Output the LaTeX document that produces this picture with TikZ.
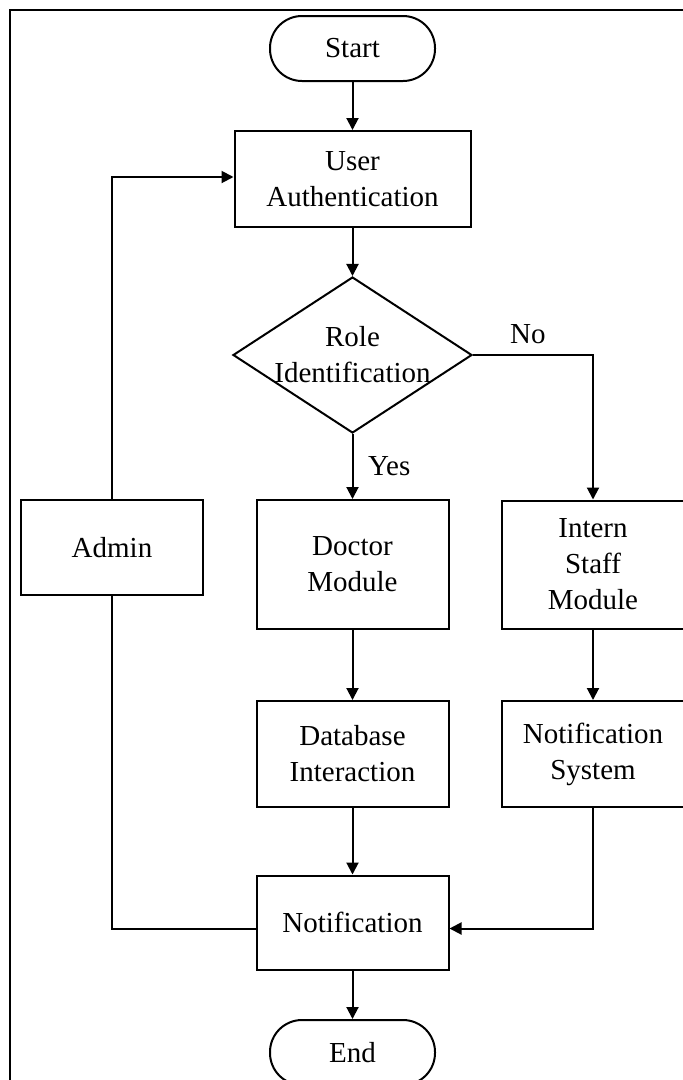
\documentclass[tikz,border=0pt]{standalone}
\usepackage{fontspec}
\setmainfont{Liberation Serif}
\usetikzlibrary{arrows.meta,shapes.geometric}

\begin{document}
\begin{tikzpicture}[x=1pt,y=-1pt,
    font=\fontsize{29}{36}\selectfont,
    box/.style={draw, line width=2pt, align=center, inner sep=0pt},
    term/.style={draw, line width=2pt, rounded corners=32pt, minimum width=165pt, minimum height=65pt},
    decision/.style={draw, diamond, line width=2pt, inner sep=0pt, minimum width=239pt, minimum height=156pt},
    flow/.style={-{Triangle[length=12pt,width=12pt]}, line width=2pt}]

    % Page size
    \useasboundingbox (0,0) rectangle (683,1080);
    \clip (0,0) rectangle (683,1080);

    % Outer frame
    \draw[line width=1.6pt] (10,10) rectangle (700,1100);

    % Define nodes
    \node[term] (start) at (352.5,48.5) {Start};
    \node[box, minimum width=236pt, minimum height=96pt] (auth) at (352.5,179) {User\\Authentication};
    \node[decision] (role) at (352.5,355) {};
    \node[align=center] (roletext) at (role) {Role\\Identification};
    \node[box, minimum width=182pt, minimum height=95pt] (admin) at (112,547.5) {Admin};
    \node[box, minimum width=192pt, minimum height=129pt] (doctor) at (352.5,564.5) {Doctor\\Module};
    \node[box, minimum width=182pt, minimum height=128pt] (intern) at (593,564.5) {Intern\\Staff\\Module};
    \node[box, minimum width=192pt, minimum height=106pt] (db) at (352.5,754) {Database\\Interaction};
    \node[box, minimum width=182pt, minimum height=106pt] (notisys) at (593,754) {Notification\\System};
    \node[box, minimum width=192pt, minimum height=94pt] (notif) at (352.5,922.5) {Notification};
    \node[term] (stop) at (352.5,1052.5) {End};

    % Branch labels
    \node[anchor=base west, inner sep=0pt] (yes) at (368,475) {Yes};
    \node[anchor=base west, inner sep=0pt] (no) at (510,343) {No};

    % Draw connectors
    \draw[flow] (start) -- (auth);
    \draw[flow] (auth) -- (role);
    \draw[flow] (role) -- (doctor);
    \draw[flow] (role.east) -| (intern.north);
    \draw[flow] (doctor) -- (db);
    \draw[flow] (intern) -- (notisys);
    \draw[flow] (db) -- (notif);
    \draw[flow] (notisys.south) |- ([yshift=-6pt]notif.east);
    \draw[flow] (notif) -- (stop);

    % Admin loop back
    \draw[line width=2pt] ([yshift=-6pt]notif.west) -| (admin.south);
    \draw[flow] (admin.north) |- ([yshift=2pt]auth.west);

\end{tikzpicture}
\end{document}
